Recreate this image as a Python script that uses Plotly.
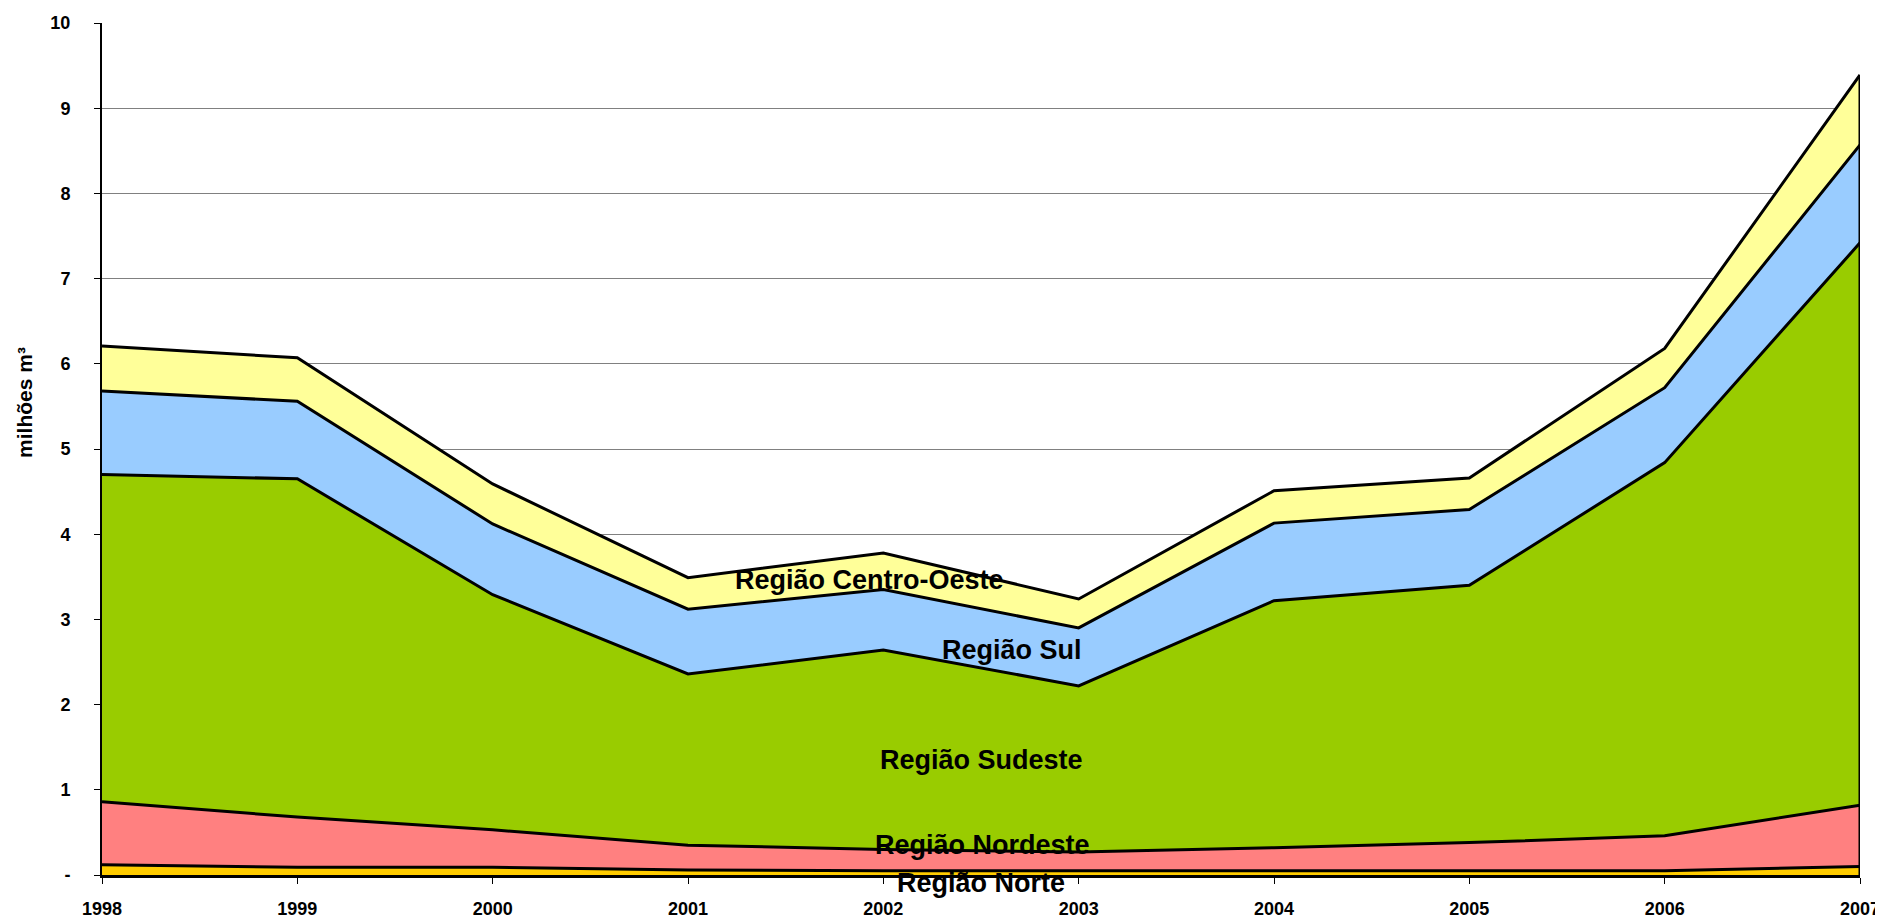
import plotly.graph_objects as go

years = [1998, 1999, 2000, 2001, 2002, 2003, 2004, 2005, 2006, 2007]

# values in millions m³ (per region)
norte        = [0.12, 0.09, 0.09, 0.06, 0.05, 0.05, 0.05, 0.05, 0.05, 0.10]
nordeste     = [0.74, 0.59, 0.44, 0.29, 0.25, 0.22, 0.27, 0.33, 0.41, 0.72]
sudeste      = [3.84, 3.97, 2.76, 2.01, 2.34, 1.95, 2.90, 3.02, 4.38, 6.60]
sul          = [0.98, 0.91, 0.83, 0.76, 0.71, 0.68, 0.91, 0.89, 0.88, 1.15]
centro_oeste = [0.53, 0.51, 0.47, 0.37, 0.43, 0.34, 0.38, 0.37, 0.46, 0.82]

series_names = ["Região Norte", "Região Nordeste", "Região Sudeste", "Região Sul", "Região Centro-Oeste"]
series_values = [norte, nordeste, sudeste, sul, centro_oeste]
colors = ["#FFCC00", "#FF8080", "#99CC00", "#99CCFF", "#FFFF99"]

y_tickvals = [0, 1, 2, 3, 4, 5, 6, 7, 8, 9, 10]
y_ticktext = ["-", "1", "2", "3", "4", "5", "6", "7", "8", "9", "10"]

# label anchor positions (x in years, y in millions)
label_pos = {
    "Região Norte": (2002.5, -0.094),
    "Região Nordeste": (2002.51, 0.35),
    "Região Sudeste": (2002.5, 1.35),
    "Região Sul": (2002.66, 2.64),
    "Região Centro-Oeste": (2001.93, 3.46),
}

FONT = "Liberation Sans"
Y_MAX = 10

fig = go.Figure()
for name, vals, col in zip(series_names, series_values, colors):
    fig.add_trace(go.Scatter(
        x=years, y=vals, name=name, mode="lines",
        stackgroup="one", fillcolor=col,
        line=dict(color="black", width=3),
        hoverinfo="x+y+name",
    ))

# right-hand closing edge of the stacked areas
total_last = sum(v[-1] for v in series_values)
fig.add_trace(go.Scatter(
    x=[years[-1], years[-1]], y=[0, total_last], mode="lines",
    line=dict(color="black", width=3), showlegend=False, hoverinfo="skip",
    cliponaxis=False,
))

for name, (lx, ly) in label_pos.items():
    fig.add_annotation(
        x=lx, y=ly / Y_MAX, xref="x", yref="paper", text="<b>%s</b>" % name,
        xanchor="center", yanchor="middle",
        showarrow=False, font=dict(family=FONT, size=27, color="black"),
    )

fig.add_annotation(
    x=-0.0445, y=0.555, xref="paper", yref="paper",
    xanchor="center", yanchor="middle",
    text="<b>milhões m³</b>", textangle=-90, showarrow=False,
    font=dict(family=FONT, size=21, color="black"),
)

# the page body adds an 8px margin, so the figure is drawn 8px smaller
fig.update_layout(
    width=1875, height=912,
    margin=dict(l=94, r=23, t=15, b=45, autoexpand=False),
    paper_bgcolor="white", plot_bgcolor="white",
    showlegend=False,
    font=dict(family=FONT, color="black"),
)
fig.update_xaxes(
    range=[years[0], years[-1]], tickvals=years,
    ticktext=["<b>%d</b>" % y for y in years],
    tickfont=dict(family=FONT, size=18, color="black"),
    showgrid=False, zeroline=False, automargin=False,
    showline=True, linecolor="black", linewidth=3,
    ticks="outside", ticklen=6, tickcolor="black", tickwidth=1,
    ticklabelstandoff=9,
)
fig.update_yaxes(
    range=[0, Y_MAX], tickvals=y_tickvals,
    ticktext=["<b>%s</b>" % t for t in y_ticktext],
    tickfont=dict(family=FONT, size=18, color="black"),
    showgrid=True, gridcolor="#808080", gridwidth=1,
    zeroline=False, automargin=False,
    showline=True, linecolor="black", linewidth=2,
    ticks="outside", ticklen=6, tickcolor="black", tickwidth=1,
    ticklabelstandoff=20,
)

fig.write_html("out.html")
